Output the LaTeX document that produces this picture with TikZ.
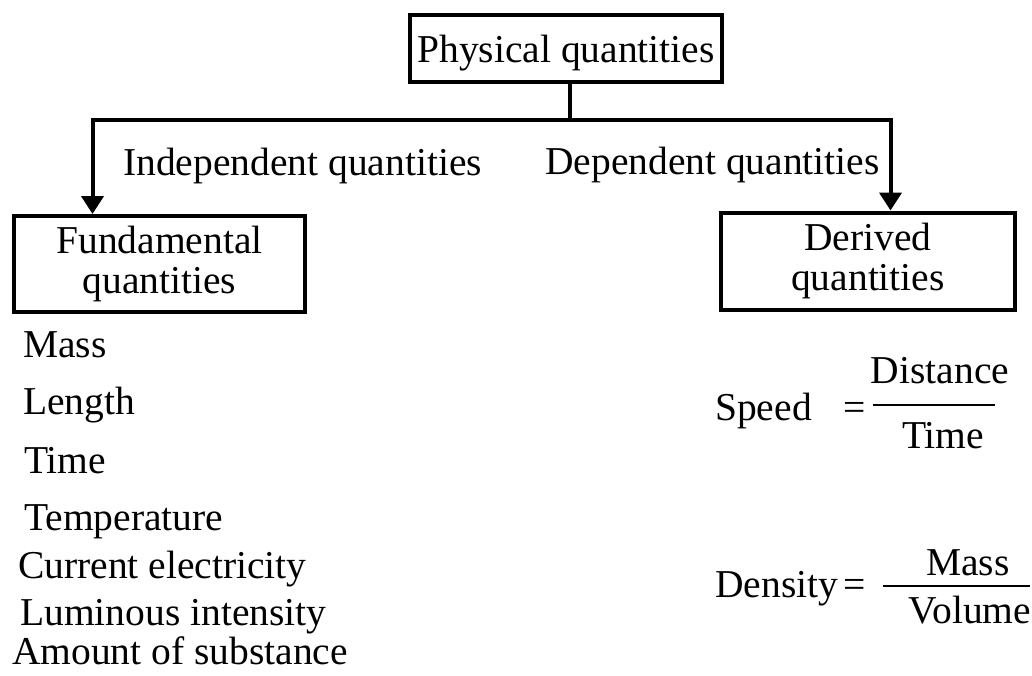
\documentclass[tikz,border=0pt]{standalone}
\usepackage{fontspec}
\setmainfont{Liberation Serif}
\usetikzlibrary{arrows.meta}
\tikzset{
  txt/.style={inner sep=0pt, font=\fontsize{39.5}{40}\selectfont},
  item/.style={txt, anchor=base west},
  ctr/.style={txt, anchor=base},
  qbox/.style={txt, draw, line width=4pt, align=center, inner sep=0pt},
  conn/.style={line width=4pt},
  arr/.style={conn, -{Triangle[width=22pt,length=18pt]}},
  bar/.style={line width=2.6pt}
}
\begin{document}
\begin{tikzpicture}[x=1pt,y=-1pt]
\useasboundingbox (0,0) rectangle (1032,675);

% classification boxes
\node[qbox, minimum width=312pt, minimum height=67pt, text depth=0pt] (top) at (566,48.5) {Physical quantities};
\node[qbox, minimum width=291pt, minimum height=96pt] (fund) at (159.5,264) {Fundamental\\quantities};
\node[qbox, minimum width=294pt, minimum height=97pt] (der) at (868,261) {Derived\\quantities};

% branching connectors
\draw[conn] ([xshift=4pt]top.south) -- ++(0,35.5) coordinate (hub);
\draw[arr] (hub) -| ([xshift=-67pt]fund.north);
\draw[arr] (hub) -| ([xshift=22.5pt]der.north);

% branch labels
\node[item] (indep) at (123,175) {Independent quantities};
\node[item] (dep) at (545,174) {Dependent quantities};

% fundamental quantities
\node[item] (m1) at (23,357) {Mass};
\node[item] (m2) at (23,414) {Length};
\node[item] (m3) at (24,473) {Time};
\node[item] (m4) at (24,530) {Temperature};
\node[item] (m5) at (18,578) {Current electricity};
\node[item] (m6) at (20,625) {Luminous intensity};
\node[item] (m7) at (12,664) {Amount of substance};

% speed = distance / time
\node[item] (speed) at (715,420) {Speed};
\node[item] (eq1) at (843,420) {=};
\coordinate (b1l) at (873,405);
\coordinate (b1r) at (995,405);
\draw[bar] (b1l) -- (b1r);
\node[ctr] (dist) at (940,383) {Distance};
\node[ctr] (time) at (943,448) {Time};

% density = mass / volume
\node[item] (dens) at (715,597) {Density};
\node[item] (eq2) at (843,597) {=};
\coordinate (b2l) at (883,586);
\coordinate (b2r) at (1030,586);
\draw[bar] (b2l) -- (b2r);
\node[ctr] (mass) at (968,575) {Mass};
\node[ctr] (vol) at (970,623) {Volume};
\end{tikzpicture}
\end{document}
